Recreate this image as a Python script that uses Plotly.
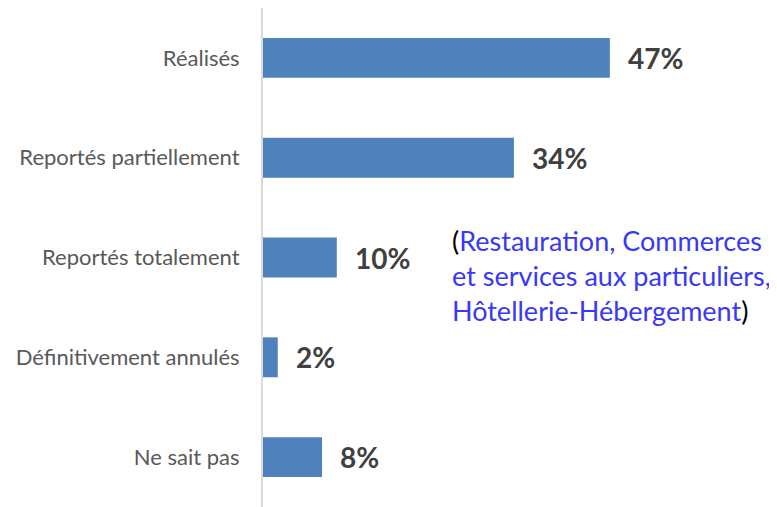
import plotly.graph_objects as go

categories = [
    "Réalisés",
    "Reportés partiellement",
    "Reportés totalement",
    "Définitivement annulés",
    "Ne sait pas",
]
values = [47, 34, 10, 2, 8]
value_labels = ["47%", "34%", "10%", "2%", "8%"]

BAR_COLOR = "#4F81BD"
FONT = "Lato"

# page body has a default 8px margin, so the figure is a bit smaller than the window
W, H = 769, 499
L = 255

fig = go.Figure(
    go.Bar(
        x=values,
        y=categories,
        orientation="h",
        marker=dict(color=BAR_COLOR, line=dict(width=0)),
        width=0.4,
        hoverinfo="skip",
    )
)

# value labels to the right of each bar
for cat, val, lab in zip(categories, values, value_labels):
    fig.add_annotation(
        x=val, y=cat, text="<b>" + lab + "</b>",
        xanchor="left", yanchor="middle", xshift=16, showarrow=False,
        font=dict(family=FONT, size=28, color="#404040"),
    )

# side note
fig.add_annotation(
    x=(442 - L) / (W - L), y=(H - 267) / H, xref="paper", yref="paper",
    xanchor="left", yanchor="middle",
    text=(
        "(<span style='color:#3838F5'>Restauration, Commerces</span><br>"
        "<span style='color:#3838F5'>et services aux particuliers,</span><br>"
        "<span style='color:#3838F5'>Hôtellerie-Hébergement</span>)"
    ),
    align="left", showarrow=False,
    font=dict(family=FONT, size=27, color="#000000"),
)

fig.update_layout(
    width=W,
    height=H,
    margin=dict(l=L, r=0, t=0, b=0),
    paper_bgcolor="white",
    plot_bgcolor="white",
    showlegend=False,
    font=dict(family=FONT, size=22, color="#595959"),
    xaxis=dict(range=[0, (W - L) / 7.38], visible=False),
    yaxis=dict(
        autorange="reversed", automargin=False,
        showline=True, linecolor="#D9D9D9", linewidth=2,
        ticks="", ticklabelstandoff=17, showgrid=False,
    ),
)

fig.write_html("out.html")
